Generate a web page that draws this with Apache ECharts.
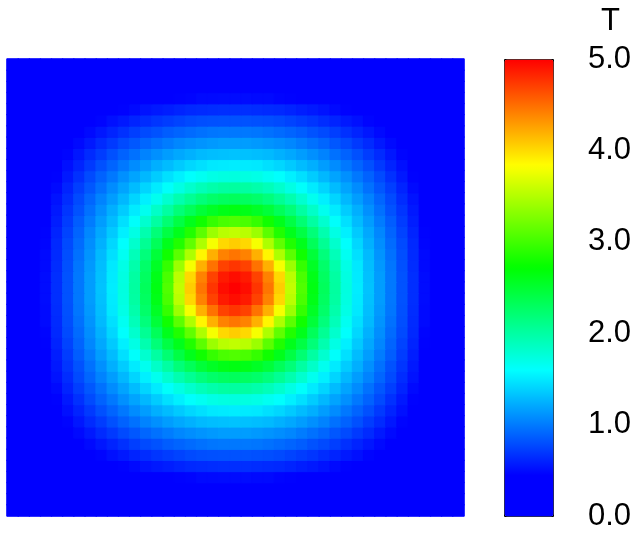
<!DOCTYPE html>
<html>
<head>
<meta charset="utf-8">
<script src="https://cdn.jsdelivr.net/npm/echarts@6/dist/echarts.min.js"></script>
<style>
html, body { margin: 0; padding: 0; background: #fff; }
#main { width: 643px; height: 539px; }
</style>
</head>
<body>
<div id="main"></div>
<script>
// T on a 41x41 grid; field is symmetric so only one quarter is kept.
// row = cells away from centre vertically, column = cells away horizontally
var tQuarter = [
  [5.00,4.94,4.76,4.47,4.07,3.57,3.07,2.64,2.32,2.02,1.74,1.52,1.33,1.16,0.99,0.82,0.66,0.50,0.35,0.22,0.09],
  [4.94,4.88,4.70,4.41,4.02,3.53,3.04,2.62,2.30,2.01,1.73,1.51,1.32,1.16,0.99,0.82,0.66,0.50,0.35,0.22,0.09],
  [4.76,4.70,4.48,4.20,3.80,3.40,2.95,2.56,2.26,1.97,1.71,1.50,1.31,1.14,0.98,0.81,0.65,0.49,0.35,0.22,0.09],
  [4.47,4.41,4.20,3.88,3.48,3.12,2.79,2.47,2.18,1.91,1.66,1.46,1.29,1.12,0.96,0.80,0.64,0.49,0.34,0.21,0.09],
  [4.07,4.02,3.80,3.48,3.14,2.86,2.60,2.33,2.07,1.82,1.61,1.42,1.25,1.09,0.93,0.78,0.63,0.47,0.33,0.21,0.09],
  [3.57,3.53,3.40,3.12,2.86,2.60,2.42,2.19,1.95,1.72,1.53,1.36,1.21,1.06,0.90,0.75,0.61,0.46,0.33,0.21,0.08],
  [3.07,3.04,2.95,2.79,2.60,2.42,2.22,2.01,1.81,1.62,1.46,1.30,1.16,1.01,0.87,0.72,0.58,0.44,0.32,0.20,0.08],
  [2.64,2.62,2.56,2.47,2.33,2.19,2.01,1.84,1.67,1.51,1.37,1.24,1.10,0.96,0.82,0.69,0.56,0.42,0.30,0.19,0.08],
  [2.32,2.30,2.26,2.18,2.07,1.95,1.81,1.67,1.53,1.41,1.28,1.16,1.04,0.91,0.78,0.65,0.53,0.40,0.29,0.18,0.07],
  [2.02,2.01,1.97,1.91,1.82,1.72,1.62,1.51,1.41,1.30,1.19,1.08,0.96,0.84,0.73,0.61,0.49,0.38,0.27,0.17,0.07],
  [1.74,1.73,1.71,1.66,1.61,1.53,1.46,1.37,1.28,1.19,1.10,0.99,0.89,0.78,0.67,0.56,0.46,0.35,0.26,0.16,0.06],
  [1.52,1.51,1.50,1.46,1.42,1.36,1.30,1.24,1.16,1.08,0.99,0.90,0.81,0.71,0.61,0.52,0.42,0.32,0.24,0.15,0.06],
  [1.33,1.32,1.31,1.29,1.25,1.21,1.16,1.10,1.04,0.96,0.89,0.81,0.72,0.64,0.55,0.47,0.38,0.30,0.22,0.14,0.05],
  [1.16,1.16,1.14,1.12,1.09,1.06,1.01,0.96,0.91,0.84,0.78,0.71,0.64,0.56,0.49,0.41,0.34,0.27,0.20,0.13,0.05],
  [0.99,0.99,0.98,0.96,0.93,0.90,0.87,0.82,0.78,0.73,0.67,0.61,0.55,0.49,0.42,0.36,0.30,0.24,0.18,0.12,0.04],
  [0.82,0.82,0.81,0.80,0.78,0.75,0.72,0.69,0.65,0.61,0.56,0.52,0.47,0.41,0.36,0.31,0.26,0.21,0.15,0.10,0.04],
  [0.66,0.66,0.65,0.64,0.63,0.61,0.58,0.56,0.53,0.49,0.46,0.42,0.38,0.34,0.30,0.26,0.22,0.18,0.13,0.09,0.03],
  [0.50,0.50,0.49,0.49,0.47,0.46,0.44,0.42,0.40,0.38,0.35,0.32,0.30,0.27,0.24,0.21,0.18,0.14,0.11,0.07,0.02],
  [0.35,0.35,0.35,0.34,0.33,0.33,0.32,0.30,0.29,0.27,0.26,0.24,0.22,0.20,0.18,0.15,0.13,0.11,0.08,0.05,0.02],
  [0.22,0.22,0.22,0.21,0.21,0.21,0.20,0.19,0.18,0.17,0.16,0.15,0.14,0.13,0.12,0.10,0.09,0.07,0.05,0.03,0.01],
  [0.09,0.09,0.09,0.09,0.09,0.08,0.08,0.08,0.07,0.07,0.06,0.06,0.05,0.05,0.04,0.04,0.03,0.02,0.02,0.01,0.00]
];

var colorbarTicks = ['0.0', '1.0', '2.0', '3.0', '4.0', '5.0'];
var legendTitle = 'T';

// colour ramp of the legend (value -> colour)
var stopValues = [0, 0.45, 1.6, 2.72, 3.84, 5.0];
var stopColors = ['#0000ff', '#0000ff', '#00ffff', '#00ff00', '#ffff00', '#ff0000'];

function hexRgb(h) {
  return [parseInt(h.substr(1, 2), 16), parseInt(h.substr(3, 2), 16), parseInt(h.substr(5, 2), 16)];
}
function rampAt(v) {
  for (var i = 0; i < stopValues.length - 1; i++) {
    if (v <= stopValues[i + 1]) {
      var t = (v - stopValues[i]) / (stopValues[i + 1] - stopValues[i]);
      var a = hexRgb(stopColors[i]), b = hexRgb(stopColors[i + 1]);
      return 'rgb(' + [0, 1, 2].map(function (k) { return Math.round(a[k] + (b[k] - a[k]) * t); }).join(',') + ')';
    }
  }
  return stopColors[stopColors.length - 1];
}
var rampColors = [];
for (var k = 0; k <= 100; k++) rampColors.push(rampAt(5 * k / 100));

// full grid from the quarter
var half = tQuarter.length - 1;
var cells = [];
for (var c = 0; c <= 2 * half; c++) cells.push(c);
var heatData = [];
for (var y = 0; y <= 2 * half; y++) {
  for (var x = 0; x <= 2 * half; x++) {
    var t = tQuarter[Math.abs(y - half)][Math.abs(x - half)];
    // thin border in the cell's own colour hides the anti-aliased seams
    heatData.push({ value: [x, y, t], itemStyle: { borderColor: rampAt(t), borderWidth: 1 } });
  }
}

var chart = echarts.init(document.getElementById('main'));
chart.setOption({
  animation: false,
  backgroundColor: '#fff',
  title: {
    text: legendTitle,
    left: 596,
    top: 1,
    textStyle: { fontSize: 31, fontWeight: 'normal', fontFamily: 'Liberation Sans', color: '#000' }
  },
  grid: [
    { left: 7, top: 59, width: 457, height: 457, show: false },
    { left: 504, top: 59, width: 49, height: 457, show: false }
  ],
  xAxis: [
    { type: 'category', data: cells, gridIndex: 0, show: false },
    { type: 'value', gridIndex: 1, show: false, min: 0, max: 1 }
  ],
  yAxis: [
    { type: 'category', data: cells, gridIndex: 0, show: false },
    {
      type: 'value', gridIndex: 1, position: 'right', min: 0, max: 5, interval: 1,
      axisLine: { show: false }, axisTick: { show: false }, splitLine: { show: false },
      axisLabel: {
        margin: 35, fontSize: 31, fontFamily: 'Liberation Sans', color: '#000',
        formatter: function (v) { return colorbarTicks[Math.round(v)]; }
      }
    }
  ],
  visualMap: {
    type: 'continuous',
    min: 0,
    max: 5,
    dimension: 2,
    seriesIndex: 0,
    calculable: false,
    orient: 'vertical',
    left: 504,
    top: 59,
    itemWidth: 49,
    itemHeight: 457,
    padding: 0,
    text: null,
    borderColor: '#000',
    borderWidth: 1,
    inRange: { color: rampColors }
  },
  series: [{
    type: 'heatmap',
    xAxisIndex: 0,
    yAxisIndex: 0,
    data: heatData,
    emphasis: { disabled: true },
    progressive: 0
  }]
});
</script>
</body>
</html>
